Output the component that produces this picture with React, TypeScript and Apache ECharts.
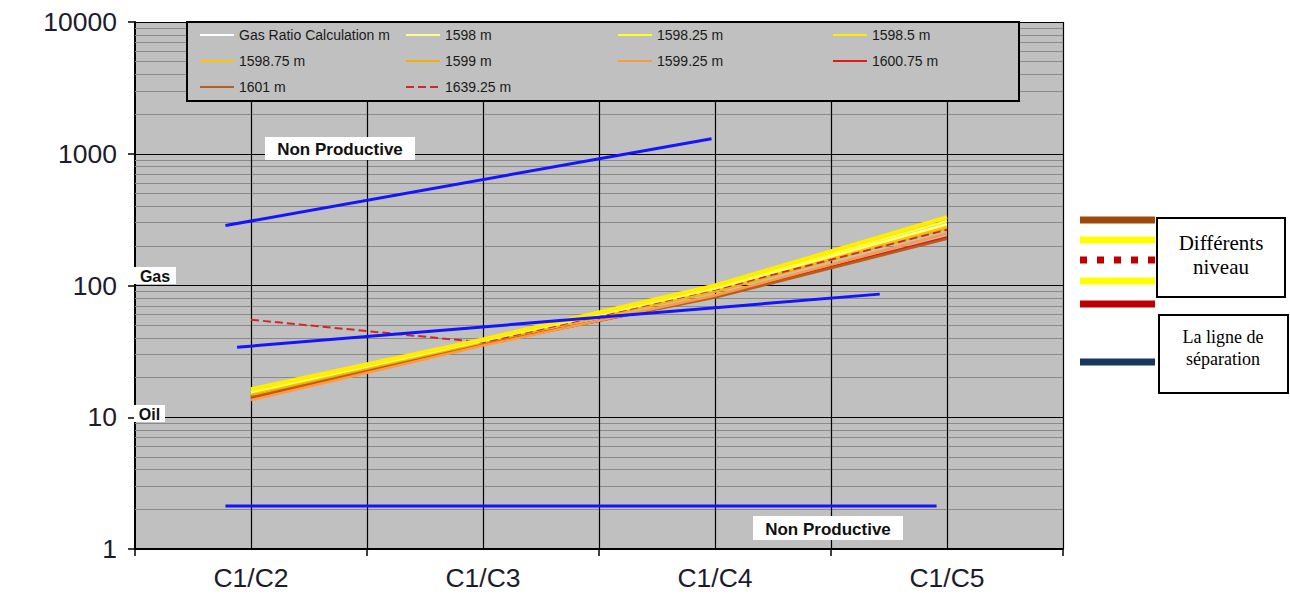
import { useEffect, useRef } from 'react';
import * as echarts from 'echarts';

// Gas ratio categories and their positions on the numeric x axis (0..8)
const categories = ['C1/C2', 'C1/C3', 'C1/C4', 'C1/C5'];
const categoryPos = [1, 3, 5, 7];
const xGridPos = [1, 2, 3, 4, 5, 6, 7, 8];
const xTickPos = [0, 2, 4, 6, 8];

// Gas ratios per depth (C1/C2, C1/C3, C1/C4, C1/C5)
const gasRatioCalc: number[] = [];
const d1598 = [15.5, 38, 95, 292];
const d159825 = [15.8, 38.5, 97, 308];
const d15985 = [16.3, 39, 100, 330];
const d159875 = [15.2, 37.5, 92, 282];
const d1599 = [14.8, 37, 90, 272];
const d159925 = [13.5, 35, 84, 248];
const d160075 = [14, 35.5, 82, 232];
const d1601 = [14.3, 36, 81, 226];
const d163925 = [55, 37, 93, 265];

// Separation lines: [x position, ratio]
const upperLimit = [[0.78, 285], [4.97, 1300]];
const gasOilLimit = [[0.88, 34], [6.42, 86]];
const lowerLimit = [[0.78, 2.12], [6.91, 2.12]];

// Log axis decades and minor grid values
const decades = [1, 10, 100, 1000];
const minorSteps = [2, 3, 4, 5, 6, 7, 8, 9];

const depthSeries = [
  { name: 'Gas Ratio Calculation m', values: gasRatioCalc, color: '#ffffff', width: 2, dash: 'solid' },
  { name: '1600.75 m', values: d160075, color: '#e81818', width: 2.5, dash: 'solid' },
  { name: '1601 m', values: d1601, color: '#b4601c', width: 2.5, dash: 'solid' },
  { name: '1599.25 m', values: d159925, color: '#ff9a40', width: 2.5, dash: 'solid' },
  { name: '1599 m', values: d1599, color: '#f0b000', width: 2.5, dash: 'solid' },
  { name: '1598.75 m', values: d159875, color: '#ffc400', width: 2.5, dash: 'solid' },
  { name: '1639.25 m', values: d163925, color: '#d02828', width: 2, dash: 'dashed' },
  { name: '1598 m', values: d1598, color: '#ffff90', width: 2.5, dash: 'solid' },
  { name: '1598.25 m', values: d159825, color: '#ffff20', width: 2.5, dash: 'solid' },
  { name: '1598.5 m', values: d15985, color: '#ffee00', width: 4, dash: 'solid' },
];

const legendColumns = [
  { left: 199, names: ['Gas Ratio Calculation m', '1598.75 m', '1601 m'] },
  { left: 405, names: ['1598 m', '1599 m', '1639.25 m'] },
  { left: 617, names: ['1598.25 m', '1599.25 m'] },
  { left: 832, names: ['1598.5 m', '1600.75 m'] },
];

const SANS = 'Liberation Sans, Arial, sans-serif';
const SERIF = 'Liberation Serif, Times New Roman, serif';

function boxedLabel(x: number, y: number, w: number, h: number, text: string, size: number) {
  return {
    type: 'group',
    z: 10,
    children: [
      { type: 'rect', z: 10, shape: { x, y, width: w, height: h }, style: { fill: '#ffffff' } },
      {
        type: 'text',
        z: 11,
        x: x + w / 2,
        y: y + h / 2 + 1,
        style: { text, fill: '#111', font: `bold ${size}px ${SANS}`, align: 'center', verticalAlign: 'middle' },
      },
    ],
  };
}

function keyLine(y: number, color: string, dash?: number[]) {
  return {
    type: 'line',
    z: 10,
    shape: { x1: 1080, y1: y, x2: 1155, y2: y },
    style: { stroke: color, lineWidth: 7, lineDash: dash || null },
  };
}

function serifText(x: number, y: number, text: string, size: number) {
  return {
    type: 'text',
    z: 11,
    x,
    y,
    style: { text, fill: '#000', font: `${size}px ${SERIF}`, align: 'center', verticalAlign: 'middle' },
  };
}

export default function App() {
  const ref = useRef<HTMLDivElement>(null);

  useEffect(() => {
    document.body.style.margin = '0';
    const chart = echarts.init(ref.current!, null, { renderer: 'svg' });

    const gridLines: any[] = [];
    decades.forEach((d) =>
      minorSteps.forEach((k) => gridLines.push({ yAxis: d * k })),
    );
    xGridPos.forEach((x) =>
      gridLines.push({ xAxis: x, lineStyle: { color: '#000', width: 1.2, type: 'solid' } }),
    );

    const series: any[] = [
      {
        name: 'grid-lines',
        type: 'line',
        data: [],
        silent: true,
        z: 1,
        markLine: {
          silent: true,
          z: 1,
          symbol: 'none',
          label: { show: false },
          lineStyle: { color: '#8a8a8a', width: 1, type: 'solid' },
          data: gridLines,
        },
      },
    ];

    depthSeries.forEach((s) => {
      series.push({
        name: s.name,
        type: 'line',
        symbol: 'none',
        z: 3,
        lineStyle: { color: s.color, width: s.width, type: s.dash },
        itemStyle: { color: s.color },
        data: s.values.map((v, i) => [categoryPos[i], v]),
      });
    });

    [upperLimit, gasOilLimit, lowerLimit].forEach((pts, i) => {
      series.push({
        name: 'limit-' + i,
        type: 'line',
        symbol: 'none',
        z: 4,
        lineStyle: { color: '#1414ff', width: 3 },
        data: pts,
      });
    });

    const legends = legendColumns.map((col) => ({
      orient: 'vertical',
      left: col.left,
      top: 28,
      padding: 0,
      itemWidth: 34,
      itemHeight: 14,
      itemGap: 12,
      z: 6,
      data: col.names,
      itemStyle: { opacity: 0, borderWidth: 0 },
      lineStyle: { width: 2 },
      textStyle: { fontFamily: SANS, fontSize: 14, color: '#1a1a1a' },
      selectedMode: false,
    }));

    chart.setOption({
      animation: false,
      grid: {
        left: 135,
        right: 227,
        top: 22,
        bottom: 57,
        show: true,
        backgroundColor: '#c0c0c0',
        borderWidth: 0,
      },
      legend: legends,
      xAxis: {
        type: 'value',
        min: 0,
        max: 8,
        interval: 1,
        axisLine: { show: true, lineStyle: { color: '#000', width: 2 } },
        axisTick: { show: true, length: 7, customValues: xTickPos, lineStyle: { color: '#000', width: 1.5 } },
        axisLabel: {
          customValues: categoryPos,
          margin: 15,
          fontFamily: SANS,
          fontSize: 26.5,
          color: '#1c1c2c',
          formatter: (v: number) => {
            const idx = categoryPos.indexOf(v);
            return idx >= 0 ? categories[idx] : '';
          },
        },
        splitLine: { show: false },
      },
      yAxis: {
        type: 'log',
        logBase: 10,
        min: 1,
        max: 10000,
        axisLine: { show: true, lineStyle: { color: '#000', width: 2 } },
        axisTick: { show: true, length: 7, lineStyle: { color: '#000', width: 1.5 } },
        axisLabel: {
          margin: 18,
          fontFamily: SANS,
          fontSize: 26.5,
          color: '#1c1c2c',
          formatter: (v: number) => String(v),
        },
        splitLine: { show: true, lineStyle: { color: '#000', width: 1.2 } },
      },
      series,
      graphic: [
        {
          type: 'rect',
          z: 5,
          shape: { x: 187, y: 22, width: 832, height: 79 },
          style: { fill: '#c0c0c0', stroke: '#000', lineWidth: 2 },
        },
        boxedLabel(265, 137, 150, 23, 'Non Productive', 17),
        boxedLabel(753, 516, 150, 24, 'Non Productive', 17),
        boxedLabel(134, 267, 42, 17, 'Gas', 16),
        boxedLabel(134, 405, 31, 17, 'Oil', 16),
        keyLine(220, '#9c4a0c'),
        keyLine(240, '#ffff00'),
        keyLine(260, '#c00000', [7, 10]),
        keyLine(281, '#ffff00'),
        keyLine(304, '#c00000'),
        keyLine(362, '#17375e'),
        {
          type: 'rect',
          z: 10,
          shape: { x: 1157, y: 218, width: 128, height: 79 },
          style: { fill: '#ffffff', stroke: '#000', lineWidth: 2 },
        },
        serifText(1221, 243, 'Différents', 21),
        serifText(1221, 267, 'niveau', 21),
        {
          type: 'rect',
          z: 10,
          shape: { x: 1159, y: 315, width: 129, height: 78 },
          style: { fill: '#ffffff', stroke: '#000', lineWidth: 2 },
        },
        serifText(1223, 337, 'La ligne de', 18),
        serifText(1223, 359, 'séparation', 18),
      ],
    });

    return () => chart.dispose();
  }, []);

  return <div ref={ref} style={{ width: 1290, height: 606 }} />;
}
